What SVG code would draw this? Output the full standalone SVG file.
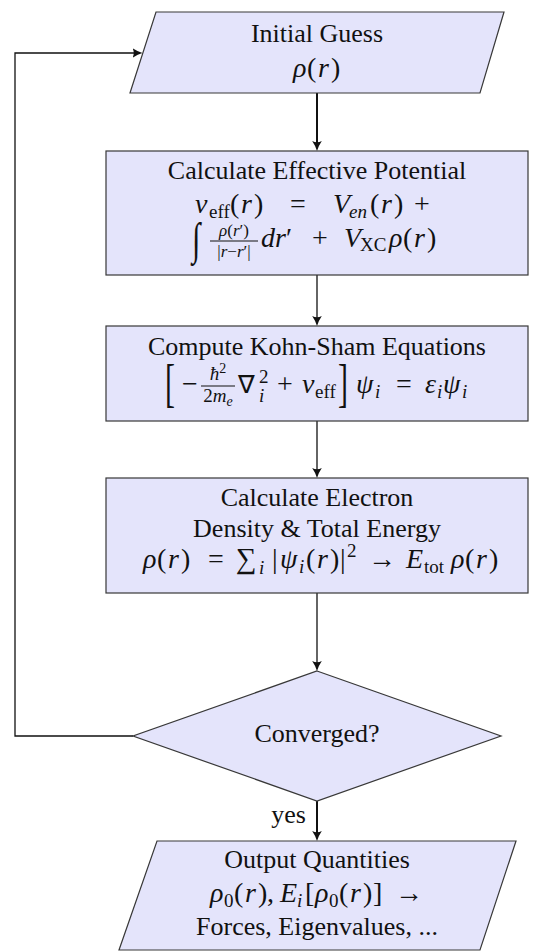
<svg xmlns="http://www.w3.org/2000/svg" width="555" height="952" viewBox="0 0 555 952">
<style>
.shape{fill:#e4e4fb;stroke:#383838;stroke-width:1.2}
text{font-family:'Liberation Serif','Times New Roman',Tinos,Times,serif}
.t{font-size:26px;fill:#111}
.m{font-size:28px;fill:#111}
.i{font-style:italic}
.s{font-size:19px}
.f{font-size:17px}
.ss{font-size:14px}
.c{fill:none;stroke:#111;stroke-width:1.3}
.ck{fill:none;stroke:#111;stroke-width:2}
.bar{stroke:#111;stroke-width:1.1}
</style>
<defs>
<marker id="ah" markerUnits="userSpaceOnUse" markerWidth="12" markerHeight="12" refX="7" refY="6" orient="auto">
<path d="M0,1.2 Q5,4.6 10,6 Q5,7.4 0,10.8 Q2.5,6 0,1.2 Z" fill="#111"/>
</marker>
</defs>

<g id="connectors">
<line class="ck" x1="317" y1="93" x2="317" y2="148" marker-end="url(#ah)"/>
<line class="c" x1="317" y1="275" x2="317" y2="323" marker-end="url(#ah)"/>
<line class="c" x1="317" y1="421" x2="317" y2="475" marker-end="url(#ah)"/>
<line class="c" x1="317" y1="593" x2="317" y2="668" marker-end="url(#ah)"/>
<line class="ck" x1="317" y1="801" x2="317" y2="838" marker-end="url(#ah)"/>
<path class="c" d="M133,736 H15 V53 H139.5" marker-end="url(#ah)"/>
<text class="t" x="306" y="823" text-anchor="end">yes</text>
</g>

<g id="initial-guess">
<polygon class="shape" points="156,12 504,12 480,93 130,93"/>
<text class="t" x="317" y="42" text-anchor="middle">Initial Guess</text>
<text class="m" y="77"><tspan x="293" class="i">ρ</tspan><tspan x="307">(</tspan><tspan x="318" class="i">r</tspan><tspan x="331">)</tspan></text>
</g>

<g id="effective-potential">
<rect class="shape" x="106" y="151" width="422" height="124"/>
<text class="t" x="317" y="179" text-anchor="middle">Calculate Effective Potential</text>
<text class="m" y="213"><tspan x="195" class="i">ν</tspan><tspan x="209" y="218" class="s">eff</tspan><tspan x="230" y="213">(</tspan><tspan x="241" class="i">r</tspan><tspan x="254">)</tspan><tspan x="290">=</tspan><tspan x="333" class="i">V</tspan><tspan x="349" y="218" class="s i">en</tspan><tspan x="370" y="213">(</tspan><tspan x="381" class="i">r</tspan><tspan x="394">)</tspan><tspan x="414">+</tspan></text>
<text class="m" transform="translate(192,254) scale(1,1.5)" style="font-size:30px">∫</text>
<text class="m f" x="234" y="236" text-anchor="middle"><tspan class="i">ρ</tspan>(<tspan class="i">r</tspan>′)</text>
<line class="bar" x1="210" y1="241" x2="258" y2="241"/>
<text class="m f" x="234" y="257" text-anchor="middle">|<tspan class="i">r</tspan>−<tspan class="i">r</tspan>′|</text>
<text class="m" y="247"><tspan x="261" class="i">dr</tspan><tspan>′</tspan><tspan x="312">+</tspan><tspan x="344" class="i">V</tspan><tspan x="360" y="251" class="s">XC</tspan><tspan x="389" y="247" class="i">ρ</tspan><tspan x="403">(</tspan><tspan x="414" class="i">r</tspan><tspan x="427">)</tspan></text>
</g>

<g id="kohn-sham">
<rect class="shape" x="106" y="326" width="422" height="95"/>
<text class="t" x="317" y="355" text-anchor="middle">Compute Kohn-Sham Equations</text>
<text class="m" transform="translate(165,401) scale(1,1.75)" style="font-size:30px">[</text>
<text class="m" x="182" y="393">−</text>
<text class="m s" x="218" y="380" text-anchor="middle"><tspan class="i">ħ</tspan><tspan dy="-7" class="ss">2</tspan></text>
<line class="bar" x1="201" y1="386" x2="235" y2="386"/>
<text class="m s" x="218" y="402" text-anchor="middle">2<tspan class="i">m</tspan><tspan dy="4" class="ss i">e</tspan></text>
<text class="m" y="393"><tspan x="238" style="font-size:25px">∇</tspan><tspan x="259" y="383" class="s">2</tspan><tspan x="259" y="402" class="s i">i</tspan><tspan x="277" y="393">+</tspan><tspan x="302" class="i">ν</tspan><tspan x="315" y="398" class="s">eff</tspan><tspan x="356" y="393" class="i">ψ</tspan><tspan x="375" y="398" class="s i">i</tspan><tspan x="396" y="393">=</tspan><tspan x="425" class="i">ε</tspan><tspan x="437" y="398" class="s i">i</tspan><tspan x="443" y="393" class="i">ψ</tspan><tspan x="462" y="398" class="s i">i</tspan></text>
<text class="m" transform="translate(338,401) scale(1,1.75)" style="font-size:30px">]</text>
</g>

<g id="electron-density">
<rect class="shape" x="106" y="478" width="422" height="115"/>
<text class="t" x="317" y="506" text-anchor="middle">Calculate Electron</text>
<text class="t" x="317" y="537" text-anchor="middle">Density &amp; Total Energy</text>
<text class="m" y="568"><tspan x="143" class="i">ρ</tspan><tspan x="157">(</tspan><tspan x="168" class="i">r</tspan><tspan x="181">)</tspan><tspan x="208">=</tspan><tspan x="236" style="font-size:29px">∑</tspan><tspan x="259" y="574" class="s i">i</tspan><tspan x="272" y="568">|</tspan><tspan x="280" class="i">ψ</tspan><tspan x="299" y="573" class="s i">i</tspan><tspan x="306" y="568">(</tspan><tspan x="317" class="i">r</tspan><tspan x="330">)</tspan><tspan x="340">|</tspan><tspan x="347" y="557" class="s">2</tspan><tspan x="368" y="568">→</tspan><tspan x="406" class="i">E</tspan><tspan x="424" y="573" class="s">tot</tspan><tspan x="451" y="568" class="i">ρ</tspan><tspan x="465">(</tspan><tspan x="476" class="i">r</tspan><tspan x="489">)</tspan></text>
</g>

<g id="converged">
<polygon class="shape" points="317,671 501,736 317,801 133,736"/>
<text class="t" x="317" y="742" text-anchor="middle">Converged?</text>
</g>

<g id="output-quantities">
<polygon class="shape" points="157,841 516,841 480,950 119,950"/>
<text class="t" x="317" y="868" text-anchor="middle">Output Quantities</text>
<text class="m" y="902"><tspan x="210" class="i">ρ</tspan><tspan x="224" y="907" class="s">0</tspan><tspan x="234" y="902">(</tspan><tspan x="245" class="i">r</tspan><tspan x="258">)</tspan><tspan x="267">,</tspan><tspan x="280" class="i">E</tspan><tspan x="297" y="907" class="s i">i</tspan><tspan x="305" y="902">[</tspan><tspan x="315" class="i">ρ</tspan><tspan x="329" y="907" class="s">0</tspan><tspan x="339" y="902">(</tspan><tspan x="350" class="i">r</tspan><tspan x="363">)</tspan><tspan x="373">]</tspan><tspan x="395">→</tspan></text>
<text class="t" x="317" y="935" text-anchor="middle">Forces, Eigenvalues, ...</text>
</g>
</svg>
